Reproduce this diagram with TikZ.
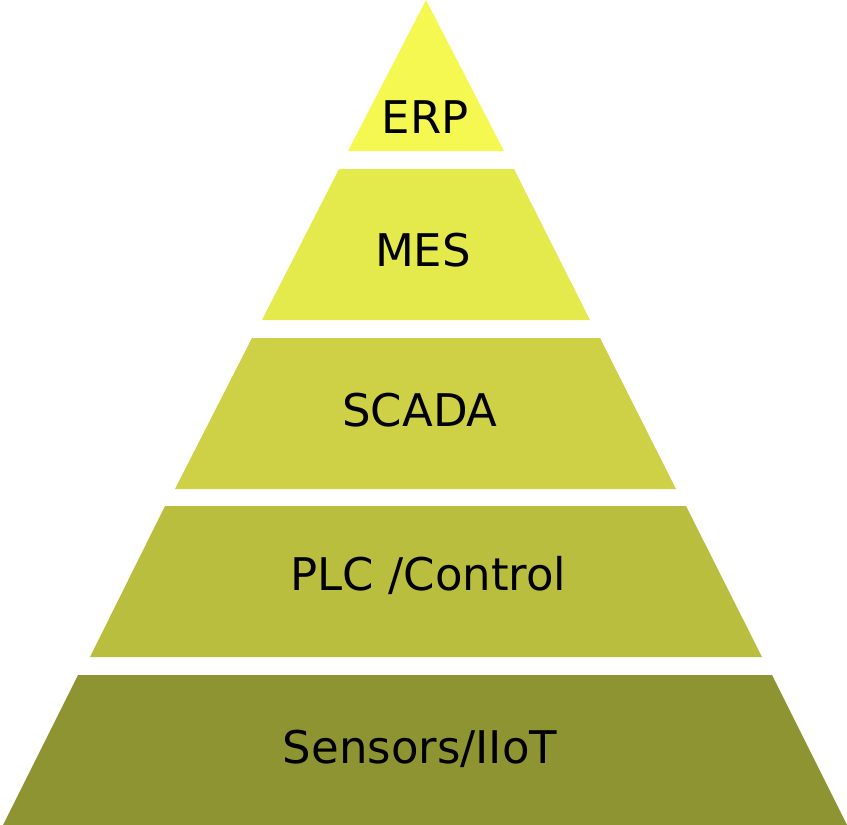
\documentclass[tikz,border=0pt]{standalone}
\usepackage{fontspec}
\setmainfont{DejaVu Sans}
\definecolor{cerp}{RGB}{245,248,80}
\definecolor{cmes}{RGB}{228,234,76}
\definecolor{cscada}{RGB}{206,208,70}
\definecolor{cplc}{RGB}{186,190,62}
\definecolor{csens}{RGB}{143,148,50}
\begin{document}
\begin{tikzpicture}[x=1pt,y=-1pt,
  lbl/.style={anchor=base,inner sep=0pt,font=\fontsize{45}{52}\selectfont,text=black}]
\useasboundingbox (0,0) rectangle (847,825);
\fill[cerp] (426,0) -- (504,151) -- (348,151) -- cycle;
\fill[cmes] (339,169) -- (514,169) -- (590,320) -- (262,320) -- cycle;
\fill[cscada] (252,338) -- (600,338) -- (676,489) -- (175,489) -- cycle;
\fill[cplc] (165,506) -- (686,506) -- (762,657) -- (90,657) -- cycle;
\fill[csens] (78,675) -- (772,675) -- (847,825) -- (3,825) -- cycle;
\node[lbl] (erp) at (425,133) {ERP};
\node[lbl] (mes) at (423,266) {MES};
\node[lbl] (scada) at (420,426) {SCADA};
\node[lbl] (plc) at (428.5,590) {PLC /Control};
\node[lbl] (sens) at (420,763) {Sensors/IIoT};
\end{tikzpicture}
\end{document}
